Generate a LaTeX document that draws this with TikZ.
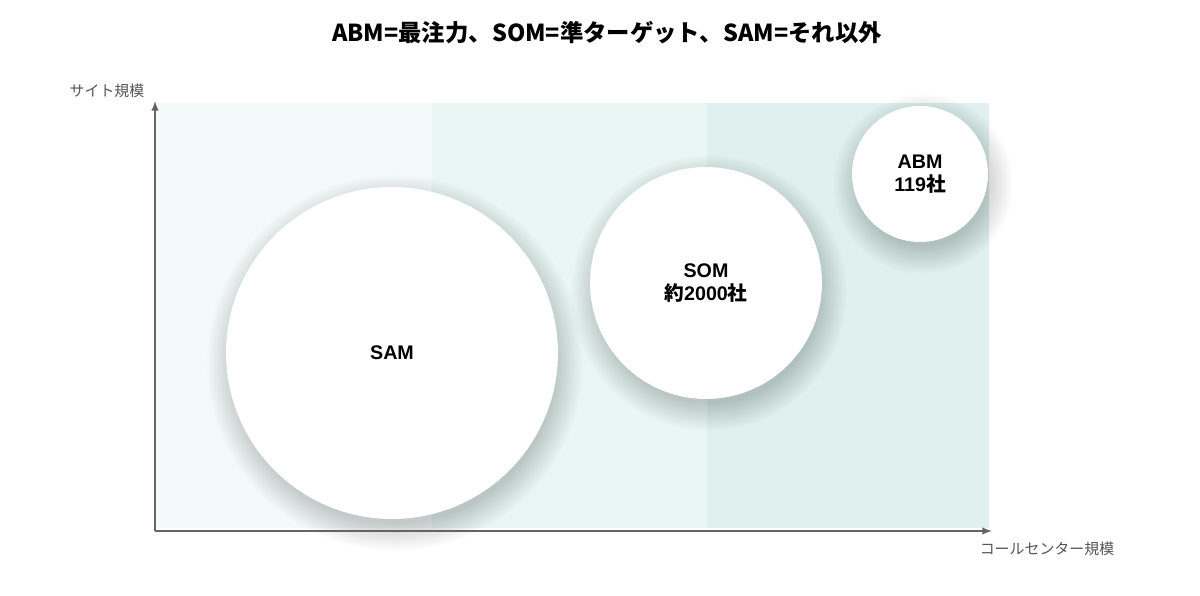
\documentclass[tikz,border=0pt]{standalone}
\usepackage{fontspec}
\setmainfont{Liberation Sans}
\newfontfamily\jpfont{Noto Sans CJK JP}
\definecolor{bandlow}{RGB}{244, 250, 249}
\definecolor{bandmid}{RGB}{234, 246, 244}
\definecolor{bandhigh}{RGB}{223, 240, 239}
\definecolor{axisgray}{RGB}{100, 100, 100}
\definecolor{labelgray}{RGB}{85, 85, 85}
\tikzset{
  market/.style={circle, fill=white, inner sep=0pt, align=center,
    font=\fontsize{11.2}{13}\selectfont\bfseries},
  axislabel/.style={font=\jpfont\fontsize{8.5}{10}\selectfont, text=labelgray},
}
% soft shadow: #1 = centre, #2 = radius (px)
\newcommand{\softshadow}[2]{%
  \foreach \k in {1,...,16}
    \fill[black, opacity=0.011] ($(#1)+(3,10)$) circle ({#2-7+1.8*\k});
}
\usetikzlibrary{calc}
\begin{document}
\begin{tikzpicture}[x=0.02cm, y=-0.02cm]
            \useasboundingbox (0,0) rectangle (1200,595);
            \fill[white]    (0,0)     rectangle (1200,595);
            \fill[bandlow]  (155,103) rectangle (432,528);
            \fill[bandmid]  (432,103) rectangle (707,528);
            \fill[bandhigh] (707,103) rectangle (989,528);
            \coordinate (origin) at (155,531);
            \coordinate (ytop)   at (155,101);
            \coordinate (xend)   at (992,531);
            \coordinate (samc) at (392,353);
            \coordinate (somc) at (706,283);
            \coordinate (abmc) at (920,174);
            \softshadow{samc}{166}
            \softshadow{somc}{116}
            \softshadow{abmc}{68}
            \node[market, minimum size=6.64cm] (sam) at (samc) {SAM};
            \node[market, minimum size=4.64cm] (som) at (somc) {SOM\\{\jpfont 約}2000{\jpfont 社}};
            \node[market, minimum size=2.72cm] (abm) at (abmc) {ABM\\119{\jpfont 社}};
            \draw[axisgray, line width=0.9pt, -latex] (origin) -- (ytop);
            \draw[axisgray, line width=0.9pt, -latex] (origin) -- (xend);
            \node[axislabel] (ylabel) at (107,91)  {サイト規模};
            \node[axislabel] (xlabel) at (1047,549) {コールセンター規模};
            \node[font=\jpfont\fontsize{13.3}{15}\selectfont\bfseries] (title) at (607,33) {ABM=最注力、SOM=準ターゲット、SAM=それ以外};
            \end{tikzpicture}
\end{document}
